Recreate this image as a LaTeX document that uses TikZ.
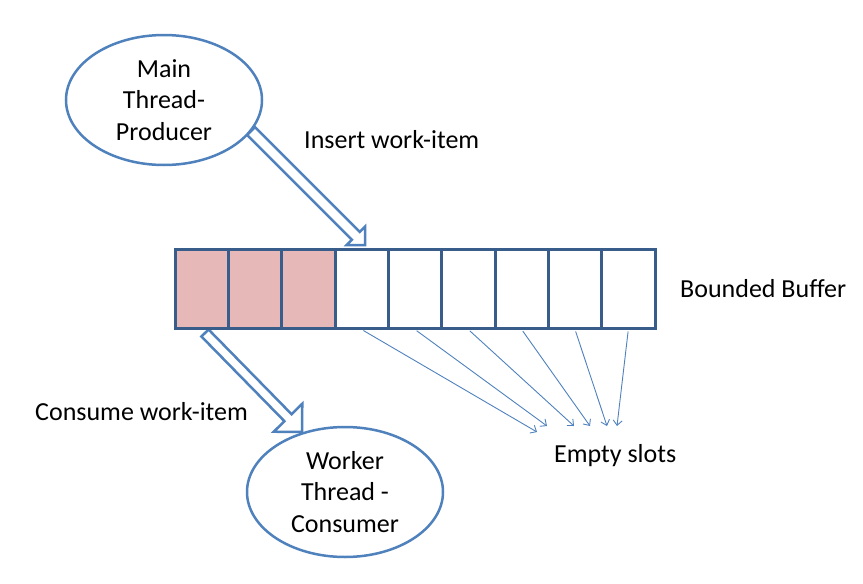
\documentclass[tikz,border=0pt]{standalone}
\usepackage{fontspec}
\setmainfont{Carlito}[Ligatures=CommonOff]
\usetikzlibrary{calc,shapes.geometric,arrows.meta}
\definecolor{ellblue}{RGB}{79,129,189}
\definecolor{bufblue}{RGB}{56,93,138}
\definecolor{fullcell}{RGB}{230,185,184}
\tikzset{
  lbl/.style={font=\fontsize{26}{31.5}\selectfont, inner sep=0pt, text=black},
  thread/.style={ellipse, draw=ellblue, line width=2.5pt, fill=white,
    minimum width=196pt, minimum height=130pt, inner sep=0pt, align=center,
    font=\fontsize{26}{31.5}\selectfont},
  cell/.style={rectangle, draw=bufblue, line width=3pt, fill=white,
    minimum width=53.333pt, minimum height=79pt, inner sep=0pt},
  fullc/.style={cell, fill=fullcell},
  blockarrow/.style={draw=ellblue, line width=2.5pt, fill=white, line join=miter},
  slotarrow/.style={draw=ellblue, line width=0.9pt,
    -{Straight Barb[length=5pt,width=9pt]}, shorten <=2pt}
}
\begin{document}
\begin{tikzpicture}[x=1pt,y=-1pt]
\useasboundingbox (0,0) rectangle (863,584);
% block arrow coordinates
\coordinate (t1) at (251,131);
\coordinate (p1) at (365,245);
\coordinate (b1) at ($(p1)!13pt!(t1)$);
\coordinate (t2) at (205,333);
\coordinate (p2) at (302,432);
\coordinate (b2) at ($(p2)!20pt!(t2)$);
% insert arrow
\draw[blockarrow] ($(t1)!5.5pt!90:(p1)$) -- ($(b1)!5.5pt!-90:(t1)$) -- ($(b1)!13pt!-90:(t1)$)
  -- (p1) -- ($(b1)!13pt!90:(t1)$) -- ($(b1)!5.5pt!90:(t1)$) -- ($(t1)!5.5pt!-90:(p1)$) -- cycle;
% consume arrow
\draw[blockarrow] ($(t2)!5pt!90:(p2)$) -- ($(b2)!5pt!-90:(t2)$) -- ($(b2)!20pt!-90:(t2)$)
  -- (p2) -- ($(b2)!20pt!90:(t2)$) -- ($(b2)!5pt!90:(t2)$) -- ($(t2)!5pt!-90:(p2)$) -- cycle;
% threads
\node[thread] (prod) at (164,100) {Main\\Thread-\\Producer};
\node[thread] (cons) at (345,492) {Worker\\Thread -\\Consumer};
% buffer
\foreach \i in {1,2,3} \node[fullc] (c\i) at ({175+53.333*(\i-0.5)},288.5) {};
\foreach \i in {4,...,9} \node[cell] (c\i) at ({175+53.333*(\i-0.5)},288.5) {};
% labels
\node[lbl, anchor=base west] (lins) at (304,148) {Insert work-item};
\node[lbl, anchor=base west] (lbuf) at (680,297) {Bounded Buffer};
\node[lbl, anchor=base west] (lcon) at (35,420) {Consume work-item};
\node[lbl, anchor=base west] (lemp) at (554,462) {Empty slots};
% slot arrows
\coordinate (e4) at (537,432);
\coordinate (e5) at (547,426);
\coordinate (e6) at (574,426);
\coordinate (e7) at (590,426);
\coordinate (e8) at (607,426);
\coordinate (e9) at (617,426);
\foreach \i in {4,...,9} \draw[slotarrow] (c\i.south) -- (e\i);
\end{tikzpicture}
\end{document}
